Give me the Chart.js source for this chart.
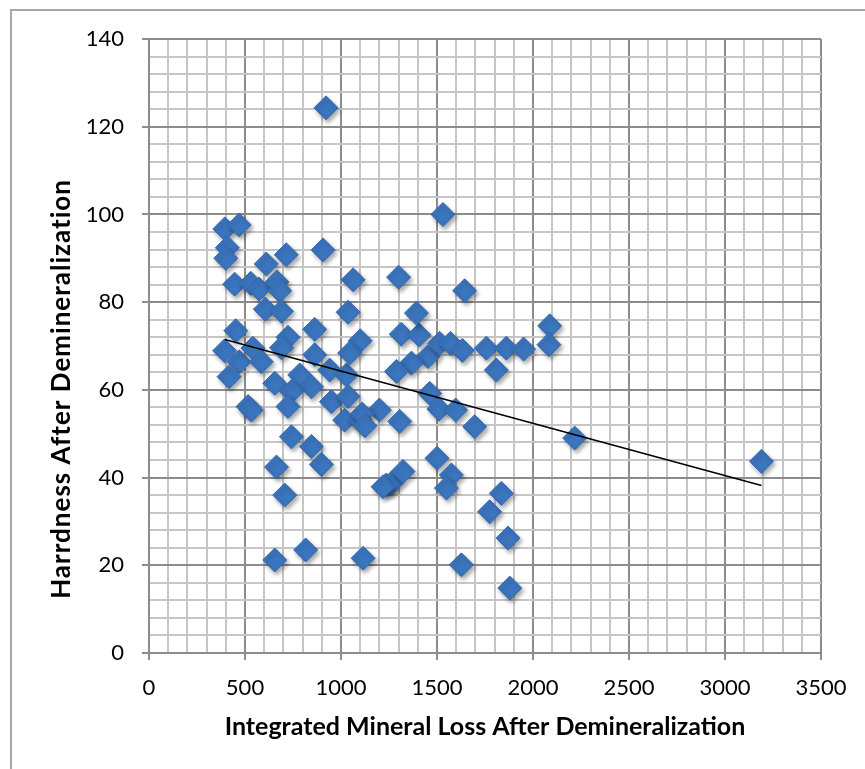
<!DOCTYPE html>
<html>
<head>
<meta charset="utf-8">
<script src="https://cdn.jsdelivr.net/npm/chart.js@4/dist/chart.umd.min.js"></script>
<style>
  body { margin: 0; background: #fff; }
  canvas { display: block; }
</style>
</head>
<body>
<canvas id="scatterChart" width="865" height="769"></canvas>
<script>
// --- DATA ---
const mineralLoss = [
  922, 1531, 395, 470, 408, 400, 715, 907, 611, 446,
  530, 573, 667, 681, 606, 690, 1063, 1037, 1300, 452,
  863, 724, 1100, 1314, 1407, 1393, 1644, 2087, 2083, 394,
  470, 541, 585, 417, 690, 863, 785, 655, 941, 1028,
  1045, 846, 742, 724, 516, 533, 950, 1037, 1019, 1097,
  1200, 742, 846, 898, 664, 707, 655, 816, 1115, 1236,
  1262, 1323, 1500, 1575, 1549, 1835, 1774, 1870, 1627, 1879,
  2217, 3190, 1453, 1367, 1289, 1809, 1462, 1510, 1597, 1696,
  1306, 1514, 1570, 1632, 1757, 1861, 1951, 1110, 1125, 1219
];
const hardness = [
  124.3, 100.0, 96.7, 97.6, 92.4, 90.0, 90.8, 91.9, 88.7, 84.1,
  84.3, 83.0, 84.6, 82.6, 78.4, 77.9, 85.1, 77.7, 85.7, 73.5,
  73.8, 72.0, 71.2, 72.7, 72.5, 77.5, 82.6, 74.6, 70.3, 68.9,
  66.4, 69.5, 66.4, 63.0, 69.6, 68.0, 63.4, 61.5, 64.5, 63.4,
  68.4, 60.7, 59.6, 56.2, 56.2, 55.4, 57.3, 58.5, 53.1, 53.1,
  55.4, 49.3, 47.1, 43.0, 42.4, 36.0, 21.2, 23.5, 21.6, 38.3,
  38.7, 41.4, 44.4, 40.6, 37.6, 36.4, 32.2, 26.2, 20.1, 14.8,
  49.0, 43.7, 67.6, 66.1, 64.2, 64.5, 59.2, 55.6, 55.4, 51.6,
  52.8, 70.6, 70.6, 69.0, 69.5, 69.5, 69.3, 54.5, 51.8, 37.9
];
const trendX = [395, 3190];
const trendY = [71.5, 38.2];

const xMajor = 500, xMinor = 100, xMax = 3500;
const yMajor = 20, yMinor = 4, yMax = 140;

// --- HELPERS ---
const points = mineralLoss.map((x, i) => ({ x: x, y: hardness[i] }));
const trend = trendX.map((x, i) => ({ x: x, y: trendY[i] }));

const MAJOR = '#8c8c8c';
const MINOR = '#c6c6c6';

// outer frame + shadow on the diamonds + rotated y title
const decor = {
  id: 'decor',
  beforeDraw(chart) {
    const ctx = chart.ctx;
    ctx.save();
    ctx.strokeStyle = '#a6a6a6';
    ctx.lineWidth = 2;
    ctx.strokeRect(11, 10, 900, 800);
    ctx.restore();
  },
  beforeDatasetDraw(chart, args) {
    if (args.index !== 1) return;
    const ctx = chart.ctx;
    ctx.save();
    ctx.shadowColor = 'rgba(0,0,0,0.35)';
    ctx.shadowBlur = 4;
    ctx.shadowOffsetX = 2;
    ctx.shadowOffsetY = 3;
  },
  afterDatasetDraw(chart, args) {
    if (args.index !== 1) return;
    chart.ctx.restore();
  },
  afterDraw(chart) {
    const ctx = chart.ctx;
    ctx.save();
    ctx.translate(62, 389);
    ctx.rotate(-Math.PI / 2);
    ctx.font = 'bold 26px Lato';
    ctx.letterSpacing = '1px';
    ctx.fillStyle = '#000';
    ctx.textAlign = 'center';
    ctx.textBaseline = 'middle';
    ctx.fillText('Harrdness After Demineralization', 0, 0);
    ctx.restore();
  }
};

function gridColor(ctx, step) {
  const v = ctx.tick ? ctx.tick.value : 0;
  return v % step === 0 ? MAJOR : MINOR;
}

function tickMarkColor(ctx, step) {
  const v = ctx.tick ? ctx.tick.value : 0;
  return v % step === 0 ? MAJOR : 'rgba(0,0,0,0)';
}

// --- CHART ---
const chart = new Chart(document.getElementById('scatterChart'), {
  type: 'scatter',
  data: {
    datasets: [
      {
        type: 'line',
        label: 'Linear trend',
        data: trend,
        borderColor: '#000',
        borderWidth: 1.6,
        pointRadius: 0,
        fill: false,
        order: 0
      },
      {
        label: 'Hardness',
        data: points,
        pointStyle: 'rectRot',
        pointRadius: 12,
        backgroundColor: '#3b75be',
        borderColor: '#3468ad',
        borderWidth: 1,
        order: 1
      }
    ]
  },
  options: {
    responsive: false,
    animation: false,
    layout: { padding: { left: 0, top: 39, right: 44, bottom: 0 } },
    plugins: {
      legend: { display: false },
      tooltip: { enabled: false }
    },
    scales: {
      x: {
        type: 'linear',
        min: 0,
        max: xMax,
        afterFit: (s) => { s.height = 116; },
        border: { color: MAJOR, width: 2 },
        grid: {
          color: (c) => gridColor(c, xMajor),
          tickColor: (c) => tickMarkColor(c, xMajor),
          lineWidth: 2,
          tickLength: 7
        },
        ticks: {
          stepSize: xMinor,
          autoSkip: false,
          maxRotation: 0,
          minRotation: 0,
          padding: 15,
          color: '#000',
          font: { family: 'Lato', size: 22 },
          callback: (v) => (v % xMajor === 0 ? String(v) : '')
        },
        title: {
          display: true,
          text: 'Integrated Mineral Loss After Demineralization',
          color: '#000',
          font: { family: 'Lato', size: 25, weight: 'bold' },
          padding: { top: 0, bottom: 27 }
        }
      },
      y: {
        type: 'linear',
        min: 0,
        max: yMax,
        afterFit: (s) => { s.width = 149; },
        border: { color: MAJOR, width: 2 },
        grid: {
          color: (c) => gridColor(c, yMajor),
          tickColor: (c) => tickMarkColor(c, yMajor),
          lineWidth: 2,
          tickLength: 7
        },
        ticks: {
          stepSize: yMinor,
          autoSkip: false,
          padding: 18,
          color: '#000',
          font: { family: 'Lato', size: 22 },
          callback: (v) => (v % yMajor === 0 ? String(v) : '')
        }
      }
    }
  },
  plugins: [decor]
});
</script>
</body>
</html>
